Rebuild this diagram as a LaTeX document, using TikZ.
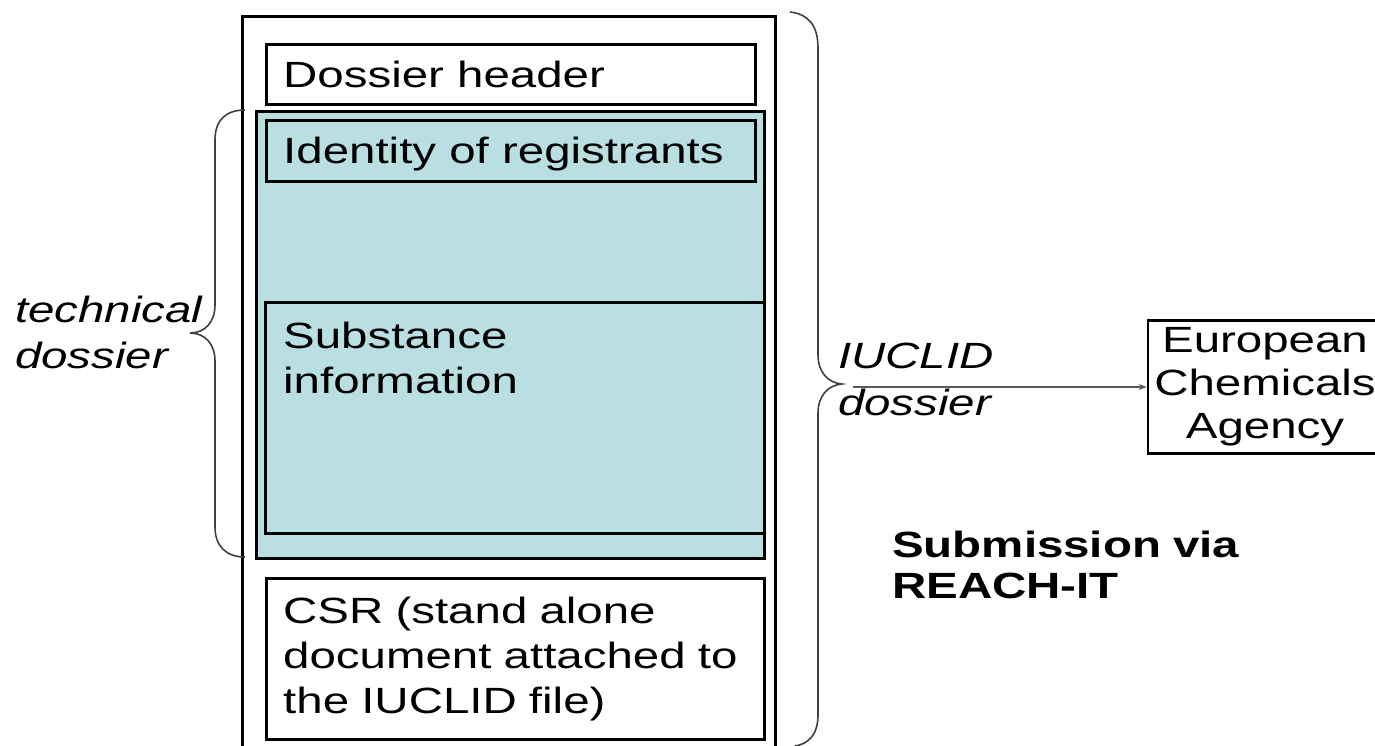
\documentclass[tikz,border=0pt]{standalone}
\usepackage{fontspec}
\setmainfont[FakeStretch=1.3]{Liberation Sans}
\usetikzlibrary{arrows.meta}
\definecolor{techfill}{RGB}{186,223,226}
\tikzset{
	box/.style={draw=black, line width=2.5pt, anchor=north west, inner sep=0pt},
	lbl/.style={anchor=base west, inner sep=0pt, font=\fontsize{36.5}{45}\selectfont},
	brace/.style={draw=black!75, line width=1.6pt},
	link/.style={draw=black!65, line width=1.6pt, -{Stealth[length=8pt,width=6pt]}},
}
\begin{document}
\begin{tikzpicture}[x=1pt, y=-1pt]
		\useasboundingbox (0,0) rectangle (1375,745);
		\clip (0,0) rectangle (1375,745);
		\node[box, minimum width=533pt, minimum height=760pt] (outer) at (241,15) {};
		\node[box, minimum width=489pt, minimum height=60pt] (hdr) at (265,43) {};
		\node[box, fill=techfill, minimum width=508pt, minimum height=447pt] (tech) at (255,110) {};
		\node[box, minimum width=489pt, minimum height=61pt] (ident) at (265,119) {};
		\node[box, minimum width=499pt, minimum height=231pt] (subst) at (264,301) {};
		\node[box, minimum width=498pt, minimum height=161pt] (csr) at (265,577) {};
		\node[lbl] (hdrtxt) at (283,87) {Dossier header};
		\node[lbl] (identtxt) at (283,163) {Identity of registrants};
		\node[lbl, text width=470pt, align=left] (substtxt) at (283,348)
		{Substance\\information};
		\node[lbl, text width=470pt, align=left] (csrtxt) at (283,623)
		{CSR (stand alone\\document attached to\\the IUCLID file)};
		\node[lbl, text width=220pt, align=left, font=\fontsize{36.5}{46}\selectfont\itshape] (techlbl) at (15,322)
		{technical\\dossier};
		\node[lbl, text width=220pt, align=left, font=\fontsize{36.5}{47}\selectfont\itshape] (iulbl) at (838,368)
		{IUCLID\\dossier};
		\node[draw=black, line width=2.5pt, inner sep=0pt, minimum width=234pt, minimum height=133pt, align=center, font=\fontsize{36.5}{43}\selectfont] (echa) at (1265,387)
		{European~\\Chemicals\\Agency};
		\node[lbl, text width=400pt, align=left, font=\fontsize{36.5}{41}\selectfont\bfseries] (submit) at (892,557)
		{Submission via\\REACH-IT};
		\draw[brace] (245,110) .. controls (226,110) and (215,120) .. (215,140) -- (215,305)
		.. controls (215,322) and (205,333) .. (190,333) .. controls (205,333) and (215,344) .. (215,361)
		-- (215,527) .. controls (215,546) and (226,557) .. (245,557);
		\draw[brace] (790,12) .. controls (808,14) and (818,25) .. (818,48) -- (818,355)
		.. controls (818,372) and (828,383) .. (842,384) .. controls (828,385) and (818,396) .. (818,413)
		-- (818,715) .. controls (818,735) and (808,744) .. (795,746);
		\coordinate (arrstart) at (853,387);
		\draw[link] (arrstart) -- (echa.west);
	\end{tikzpicture}
\end{document}
